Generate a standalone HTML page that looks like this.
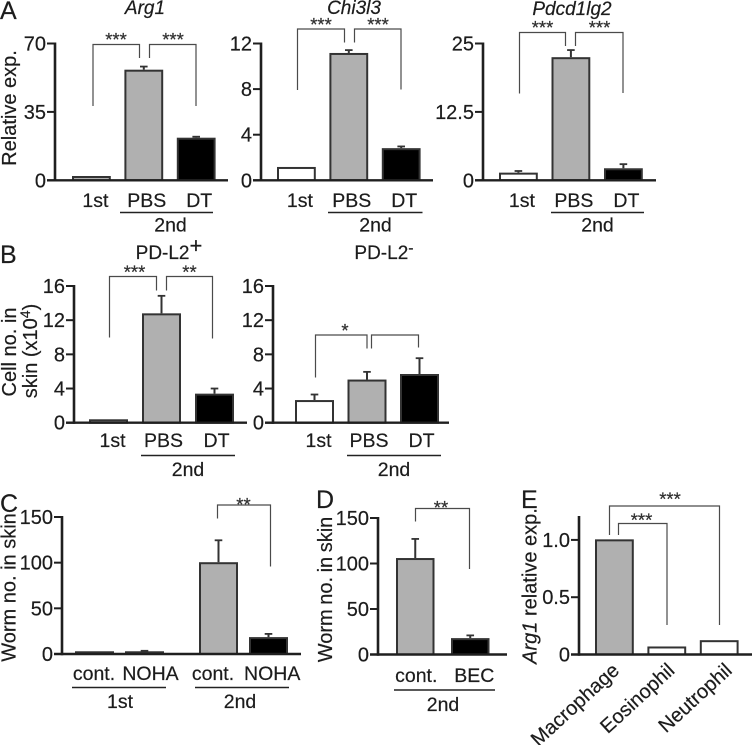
<!DOCTYPE html>
<html lang="en">
<head>
<meta charset="utf-8">
<title>Bar chart figure panels A to E</title>
<style>
html,body{margin:0;padding:0;background:#fff;}
svg{display:block;}
text{font-family:"Liberation Sans",Arial,sans-serif;fill:#1c1c1c;stroke:#1c1c1c;stroke-width:.2;}
.bracket{fill:none;stroke:#4a4a4a;stroke-width:1.2;}
.star{font-size:18.5px;text-anchor:middle;fill:#333;}
.letter{font-size:25px;}
.ytitle{font-size:20px;}
.title{font-size:19px;text-anchor:middle;}
.label{font-size:19.5px;text-anchor:middle;}
.rule{stroke:#222;stroke-width:1.4;}
</style>
</head>
<body>
<svg id="figure" xmlns="http://www.w3.org/2000/svg" width="752" height="745" viewBox="0 0 752 745">
  <rect width="752" height="745" fill="#fff"/>

  <text class="letter" x="0" y="19">A</text>
  <text class="letter" x="0" y="263">B</text>
  <text class="letter" x="0" y="512">C</text>
  <text class="letter" x="316" y="508">D</text>
  <text class="letter" x="521" y="508">E</text>

  <text class="title" font-style="italic" x="145" y="14">Arg1</text>
  <text class="title" font-style="italic" x="354" y="14">Chi3l3</text>
  <text class="title" font-style="italic" x="572" y="15">Pdcd1lg2</text>
  <text class="title" x="169" y="259">PD-L2<tspan dy="-6" font-size="22">+</tspan></text>
  <text class="title" x="384" y="259">PD-L2<tspan dy="-6" font-size="16">-</tspan></text>

  <text class="ytitle" transform="translate(16,108) rotate(-90)" text-anchor="middle">Relative exp.</text>
  <text class="ytitle" transform="translate(16,352) rotate(-90)" text-anchor="middle">Cell no. in</text>
  <text class="ytitle" transform="translate(37,351) rotate(-90)" text-anchor="middle">skin (x10<tspan dy="-7" font-size="14">4</tspan><tspan dy="7">)</tspan></text>
  <text class="ytitle" transform="translate(15.5,587.5) rotate(-90)" text-anchor="middle">Worm no. in skin</text>
  <text class="ytitle" transform="translate(332,589.5) rotate(-90)" text-anchor="middle" word-spacing="-1">Worm no. in skin</text>
  <text class="ytitle" transform="translate(536.5,586) rotate(-90)" text-anchor="middle"><tspan font-style="italic">Arg1</tspan> relative exp.</text>

  <g>
    <line class="rule" x1="120" x2="213" y1="212.5" y2="212.5"/>
    <text class="label" x="170.5" y="231.5">2nd</text>
    <line class="rule" x1="328" x2="422.5" y1="212.5" y2="212.5"/>
    <text class="label" x="375.5" y="231.5">2nd</text>
    <line class="rule" x1="551" x2="644" y1="212.5" y2="212.5"/>
    <text class="label" x="597.5" y="231.5">2nd</text>
    <line class="rule" x1="141" x2="235" y1="455.5" y2="455.5"/>
    <text class="label" x="188" y="476">2nd</text>
    <line class="rule" x1="347" x2="441" y1="455.5" y2="455.5"/>
    <text class="label" x="394" y="476">2nd</text>
    <line class="rule" x1="72" x2="166" y1="687.5" y2="687.5"/>
    <text class="label" x="120" y="708">1st</text>
    <line class="rule" x1="195" x2="289" y1="687.5" y2="687.5"/>
    <text class="label" x="240" y="708">2nd</text>
    <line class="rule" x1="394" x2="495" y1="690" y2="690"/>
    <text class="label" x="443" y="711">2nd</text>
  </g>

  <g>
    <path class="bracket" d="M93 106V44.5H139.5V58"/>
    <path class="bracket" d="M149.5 58V44.5H196V106"/>
    <text class="star" x="116" y="46">***</text>
    <text class="star" x="173" y="46">***</text>

    <path class="bracket" d="M297.5 90V29H344.5V42.5"/>
    <path class="bracket" d="M354.5 42.5V29H401V89.5"/>
    <text class="star" x="321" y="31">***</text>
    <text class="star" x="378" y="31">***</text>

    <path class="bracket" d="M519.5 93.5V32.5H565.5V46"/>
    <path class="bracket" d="M575.5 46V32.5H623V93"/>
    <text class="star" x="542.5" y="34">***</text>
    <text class="star" x="599.5" y="34">***</text>

    <path class="bracket" d="M109.5 337.5V276.5H156.5V290.5"/>
    <path class="bracket" d="M166.5 290.5V276.5H212.5V338.5"/>
    <text class="star" x="134.5" y="278.5">***</text>
    <text class="star" x="189.5" y="278.5">**</text>

    <path class="bracket" d="M315.5 377.5V335H367V348.5"/>
    <path class="bracket" d="M371.5 348.5V335H418.5V347.5"/>
    <text class="star" x="345" y="337">*</text>

    <path class="bracket" d="M217.5 518.5V505H270.5V566.5"/>
    <text class="star" x="243.5" y="511">**</text>

    <path class="bracket" d="M415.5 521.5V508.5H469.5V569"/>
    <text class="star" x="441" y="514">**</text>

    <path class="bracket" d="M609.5 535V506H719.5V625"/>
    <path class="bracket" d="M618.5 535V523.5H667V625"/>
    <text class="star" x="670" y="505.5">***</text>
    <text class="star" x="641.5" y="526.5">***</text>
  </g>
</svg>

<script>
// Chart data
const arg1Categories = ['1st', 'PBS', 'DT'];
const arg1Values = [2.2, 56.6, 21.8];
const arg1Errors = [0, 1.6, 0.5];
const arg1Ticks = ['0', '35', '70'];

const chi3l3Categories = ['1st', 'PBS', 'DT'];
const chi3l3Values = [1.17, 11.17, 2.82];
const chi3l3Errors = [0, 0.25, 0.15];
const chi3l3Ticks = ['0', '4', '8', '12'];

const pdcd1lg2Categories = ['1st', 'PBS', 'DT'];
const pdcd1lg2Values = [1.4, 22.5, 2.2];
const pdcd1lg2Errors = [0.3, 1.3, 0.75];
const pdcd1lg2Ticks = ['0', '12.5', '25'];

const pdl2PosCategories = ['1st', 'PBS', 'DT'];
const pdl2PosValues = [0.4, 12.8, 3.4];
const pdl2PosErrors = [0, 2.05, 0.6];
const pdl2PosTicks = ['0', '4', '8', '12', '16'];

const pdl2NegCategories = ['1st', 'PBS', 'DT'];
const pdl2NegValues = [2.65, 5.05, 5.7];
const pdl2NegErrors = [0.65, 0.9, 1.85];
const pdl2NegTicks = ['0', '4', '8', '12', '16'];

const wormCCategories = ['cont.', 'NOHA', 'cont.', 'NOHA'];
const wormCValues = [3, 3, 100.5, 18.5];
const wormCErrors = [0, 0.5, 24, 3.5];
const wormCTicks = ['0', '50', '100', '150'];

const wormDCategories = ['cont.', 'BEC'];
const wormDValues = [106, 18];
const wormDErrors = [21, 3];
const wormDTicks = ['0', '50', '100', '150'];

const cellTypeCategories = ['Macrophage', 'Eosinophil', 'Neutrophil'];
const cellTypeValues = [1.005, 0.07, 0.125];
const cellTypeErrors = [0, 0, 0];
const cellTypeTicks = ['0', '0.5', '1.0'];

const SVG_NS = 'http://www.w3.org/2000/svg';
const figure = document.getElementById('figure');
const AXIS = '#1f1f1f';
const EDGE = '#333';
const GRAY = '#b0b0b0';
const BLACK = '#000';
const WHITE = '#fff';

function shape(parent, tag, attrs, name) {
  const el = document.createElementNS(SVG_NS, tag);
  for (const key in attrs) el.setAttribute(key, attrs[key]);
  
  
  parent.appendChild(el);
  return el;
}

function drawPanel(id, cfg, categories, values, errors, ticks) {
  const group = shape(figure, 'g', {}, id + '-chart');
  const yScale = v => cfg.y0 - (v / cfg.yMax) * (cfg.y0 - cfg.yTop);
  const xScale = i => cfg.x0 + i * cfg.step + (cfg.gapAfter !== undefined && i > cfg.gapAfter ? cfg.gap : 0);

  categories.forEach((cat, i) => {
    const left = xScale(i);
    const top = yScale(values[i]);
    const mid = left + cfg.w / 2;
    if (errors[i] > 0) {
      const errTop = yScale(values[i] + errors[i]);
      shape(group, 'line', {x1: mid, x2: mid, y1: top, y2: errTop, stroke: EDGE, 'stroke-width': 2}, id + '-error-stem-' + i);
      shape(group, 'line', {x1: mid - 3.8, x2: mid + 3.8, y1: errTop, y2: errTop, stroke: EDGE, 'stroke-width': 1.8}, id + '-error-cap-' + i);
    }
    shape(group, 'rect', {
      x: left + 1, y: top + 1, width: cfg.w - 2, height: Math.max(cfg.y0 - top - 1, 0.5),
      fill: cfg.fills[i], stroke: EDGE, 'stroke-width': 2
    }, id + '-bar-' + i);

    if (cfg.rotate) {
      const lx = mid + cfg.labelDx[i];
      const label = shape(group, 'text', {
        class: 'label', style: 'text-anchor:end;font-size:20px',
        transform: 'translate(' + lx + ',' + cfg.labelY + ') rotate(-42.5)'
      }, id + '-category-label-' + i);
      label.textContent = cat;
    } else {
      const label = shape(group, 'text', {class: 'label', x: mid + cfg.labelDx[i], y: cfg.labelY}, id + '-category-label-' + i);
      label.textContent = cat;
    }
  });

  shape(group, 'line', {x1: cfg.axisX, x2: cfg.axisX, y1: cfg.yTop - 1, y2: cfg.y0 + 1.2, stroke: AXIS, 'stroke-width': 2.6}, id + '-y-axis');
  shape(group, 'line', {x1: cfg.axisX - 8, x2: cfg.xEnd, y1: cfg.y0, y2: cfg.y0, stroke: AXIS, 'stroke-width': 2.4}, id + '-x-axis');

  ticks.forEach((t, i) => {
    const y = yScale(parseFloat(t));
    shape(group, 'line', {x1: cfg.axisX - 8, x2: cfg.axisX, y1: y, y2: y, stroke: AXIS, 'stroke-width': 2}, id + '-y-tick-' + i);
    const tickLabel = shape(group, 'text', {x: cfg.axisX - 9, y: y + 7, 'font-size': 20, 'text-anchor': 'end'}, id + '-y-tick-label-' + i);
    tickLabel.textContent = t;
  });
}

const threeFills = [GRAY, GRAY, BLACK];
const openFills = [WHITE, GRAY, BLACK];

drawPanel('arg1', {axisX: 55, x0: 72, step: 52.4, w: 38.8, y0: 180.3, yTop: 43.5, yMax: 70, xEnd: 228, fills: threeFills, labelDx: [4, 3, 3], labelY: 207}, arg1Categories, arg1Values, arg1Errors, arg1Ticks);
drawPanel('chi3l3', {axisX: 261, x0: 277, step: 52.4, w: 38.8, y0: 180.3, yTop: 43.5, yMax: 12, xEnd: 433, fills: openFills, labelDx: [3.5, 3, 3], labelY: 207}, chi3l3Categories, chi3l3Values, chi3l3Errors, chi3l3Ticks);
drawPanel('pdcd1lg2', {axisX: 483, x0: 499, step: 52.5, w: 38.8, y0: 180.3, yTop: 43.5, yMax: 25, xEnd: 656, fills: openFills, labelDx: [3.5, 3, 3], labelY: 207}, pdcd1lg2Categories, pdcd1lg2Values, pdcd1lg2Errors, pdcd1lg2Ticks);
drawPanel('pdl2-pos', {axisX: 74, x0: 89, step: 53, w: 39, y0: 422.7, yTop: 286, yMax: 16, xEnd: 247, fills: threeFills, labelDx: [4, 2, 2], labelY: 447}, pdl2PosCategories, pdl2PosValues, pdl2PosErrors, pdl2PosTicks);
drawPanel('pdl2-neg', {axisX: 273, x0: 295, step: 52.5, w: 39, y0: 422.7, yTop: 286, yMax: 16, xEnd: 449, fills: openFills, labelDx: [4, 2, 2], labelY: 447}, pdl2NegCategories, pdl2NegValues, pdl2NegErrors, pdl2NegTicks);
drawPanel('worm-c', {axisX: 62, x0: 75, step: 50, w: 39, gapAfter: 1, gap: 24, y0: 654, yTop: 517, yMax: 150, xEnd: 301, fills: [BLACK, BLACK, GRAY, BLACK], labelDx: [-0.5, 6, -5.5, 3.7], labelY: 680}, wormCCategories, wormCValues, wormCErrors, wormCTicks);
drawPanel('worm-d', {axisX: 378, x0: 396, step: 55, w: 38.5, y0: 654.5, yTop: 518, yMax: 150, xEnd: 507, fills: [GRAY, BLACK], labelDx: [1, 4], labelY: 682}, wormDCategories, wormDValues, wormDErrors, wormDTicks);
drawPanel('cell-type', {axisX: 579, x0: 595, step: 52.4, w: 38.8, y0: 654.5, yTop: 517, yMax: 1.2, xEnd: 752, fills: [GRAY, WHITE, WHITE], labelDx: [6, 9, 14], labelY: 672, rotate: true}, cellTypeCategories, cellTypeValues, cellTypeErrors, cellTypeTicks);
</script>
</body>
</html>
